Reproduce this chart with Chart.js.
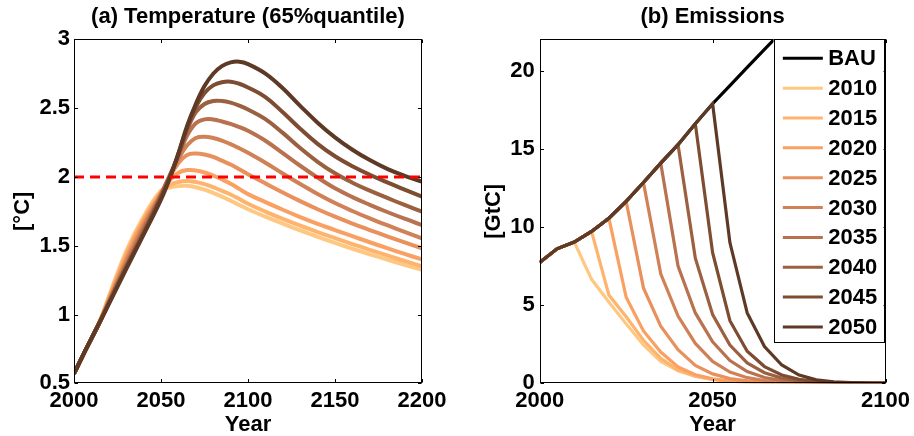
<!DOCTYPE html>
<html><head><meta charset="utf-8">
<script src="https://cdn.jsdelivr.net/npm/chart.js@4"></script>
<style>
html,body{margin:0;padding:0;background:#fff;}
#wrap{position:relative;width:914px;height:436px;background:#fff;}
canvas{position:absolute;top:0;}
#c1{left:0;} #c2{left:457px;}
</style></head><body>
<div id="wrap"><canvas id="c1" width="457" height="436"></canvas><canvas id="c2" width="457" height="436"></canvas></div>
<script>
// ---------- data ----------
const scenarioLabels = ['2010','2015','2020','2025','2030','2035','2040','2045','2050'];
const scenarioStart = [2010,2015,2020,2025,2030,2035,2040,2045,2050];
const scenarioColors = ['#FFC882','#FFB46E','#F9A062','#E8915C','#D08156','#B8724F','#9B603F','#7D4C31','#5E3A26'];

const tempYears = [2000,2005,2010,2015,2020,2030,2040,2050,2055,2060,2065,2070,2075,2080,2085,2090,2095,2100,2110,2120,2130,2140,2150,2160,2170,2180,2190,2200];
const temp2010 = [.57,.70,.825,.96,1.13,1.46,1.71,1.90,1.922,1.933,1.935,1.925,1.907,1.884,1.857,1.827,1.796,1.765,1.711,1.660,1.611,1.564,1.520,1.478,1.438,1.399,1.361,1.325];
const temp2015 = [.57,.70,.825,.955,1.12,1.44,1.69,1.89,1.94,1.963,1.97,1.963,1.947,1.925,1.899,1.872,1.839,1.805,1.748,1.695,1.646,1.599,1.555,1.512,1.470,1.429,1.389,1.35];
const temp2020 = [.57,.70,.825,.95,1.11,1.42,1.68,1.885,1.975,2.03,2.05,2.046,2.032,2.01,1.982,1.95,1.913,1.875,1.817,1.761,1.708,1.659,1.614,1.569,1.525,1.482,1.44,1.40];
const temp2025 = [.57,.70,.825,.95,1.10,1.40,1.66,1.88,2.00,2.10,2.16,2.17,2.163,2.145,2.118,2.09,2.056,2.02,1.953,1.887,1.824,1.765,1.711,1.661,1.614,1.568,1.524,1.481];
const temp2030 = [.57,.70,.825,.95,1.095,1.38,1.64,1.875,2.01,2.13,2.23,2.283,2.292,2.283,2.264,2.238,2.208,2.175,2.103,2.025,1.948,1.876,1.81,1.752,1.699,1.649,1.601,1.554];
const temp2035 = [.57,.70,.825,.95,1.09,1.36,1.62,1.87,2.01,2.15,2.30,2.39,2.418,2.417,2.403,2.385,2.362,2.335,2.263,2.173,2.081,1.995,1.917,1.853,1.797,1.745,1.696,1.65];
const temp2040 = [.57,.70,.825,.95,1.085,1.35,1.60,1.86,2.00,2.16,2.34,2.47,2.53,2.552,2.552,2.54,2.518,2.49,2.42,2.32,2.21,2.11,2.026,1.958,1.90,1.847,1.796,1.747];
const temp2045 = [.57,.70,.825,.95,1.08,1.34,1.59,1.85,1.995,2.17,2.36,2.51,2.61,2.665,2.688,2.692,2.677,2.65,2.58,2.47,2.35,2.24,2.15,2.078,2.016,1.96,1.907,1.856];
const temp2050 = [.57,.70,.825,.95,1.075,1.33,1.58,1.835,1.99,2.17,2.37,2.53,2.66,2.75,2.805,2.832,2.837,2.82,2.751,2.644,2.516,2.394,2.287,2.197,2.122,2.058,2.008,1.965];
const tempSeries = [temp2010,temp2015,temp2020,temp2025,temp2030,temp2035,temp2040,temp2045,temp2050];
const thresholdYears = [2000, 2200];
const thresholdValues = [2, 2];

const emisYears = [2000,2005,2010,2015,2020,2025,2030,2035,2040,2045,2050,2055,2060,2065,2070,2075,2080,2085,2090,2095,2100];
const emisBAU = [7.72,8.6,9.03,9.71,10.56,11.63,12.84,14.08,15.26,16.6,17.88,19.04,20.2,21.35,22.5,23.7,24.9,26.1,27.3,28.5,29.7];
const emis2010 = [9.03,6.65,5.2,3.8,2.45,1.4,0.8,0.45,0.25,0.13,0.07,0.04,0.02,0.01,0.01,0,0,0,0];
const emis2015 = [9.71,5.65,4.25,2.75,1.6,0.85,0.45,0.25,0.13,0.07,0.04,0.02,0.01,0.01,0,0,0,0];
const emis2020 = [10.56,5.5,3.35,2.0,1.05,0.55,0.28,0.14,0.07,0.04,0.02,0.01,0.01,0,0,0,0];
const emis2025 = [11.63,6.1,3.65,2.15,1.15,0.6,0.3,0.15,0.08,0.04,0.02,0.01,0.01,0,0,0];
const emis2030 = [12.84,7.0,4.3,2.55,1.4,0.72,0.36,0.18,0.09,0.05,0.02,0.01,0.01,0,0];
const emis2035 = [14.08,7.5,4.5,2.65,1.45,0.75,0.37,0.18,0.09,0.05,0.02,0.01,0,0];
const emis2040 = [15.26,8.0,4.4,2.45,1.3,0.68,0.33,0.16,0.08,0.04,0.02,0.01,0];
const emis2045 = [16.6,8.35,4.0,2.05,1.07,0.53,0.25,0.12,0.06,0.03,0.01,0];
const emis2050 = [17.88,9.0,4.5,2.35,1.17,0.53,0.22,0.1,0.05,0.02,0.01];
const emisSeries = [emis2010,emis2015,emis2020,emis2025,emis2030,emis2035,emis2040,emis2045,emis2050];

const tempXTicks = [2000,2050,2100,2150,2200];
const tempYTicks = [0.5,1,1.5,2,2.5,3];
const emisXTicks = [2000,2050,2100];
const emisYTicks = [0,5,10,15,20];

// ---------- helpers ----------
const FONT = "'Liberation Sans', Arial, Helvetica, sans-serif";
Chart.defaults.font.family = FONT;
Chart.defaults.font.size = 22;
Chart.defaults.font.weight = 'bold';
Chart.defaults.color = '#000';

const xy = (xs, ys) => ys.map((v, i) => ({x: xs[i], y: v}));

function framePlugin(tickLen) {
  return {
    id: 'frame',
    afterDraw(chart) {
      const {ctx, chartArea: a, scales} = chart;
      ctx.save();
      ctx.strokeStyle = '#000';
      ctx.lineWidth = 1;
      const L = Math.round(a.left) + 0.5, R = Math.round(a.right) - 0.5;
      const T = Math.round(a.top) + 0.5, B = Math.round(a.bottom) - 0.5;
      ctx.strokeRect(L, T, R - L, B - T);
      ctx.beginPath();
      scales.x.ticks.forEach(t => {
        const p = Math.round(scales.x.getPixelForValue(t.value)) + 0.5;
        ctx.moveTo(p, B); ctx.lineTo(p, B - tickLen);
        ctx.moveTo(p, T); ctx.lineTo(p, T + tickLen);
      });
      scales.y.ticks.forEach(t => {
        const p = Math.round(scales.y.getPixelForValue(t.value)) + 0.5;
        ctx.moveTo(L, p); ctx.lineTo(L + tickLen, p);
        ctx.moveTo(R, p); ctx.lineTo(R - tickLen, p);
      });
      ctx.stroke();
      ctx.restore();
    }
  };
}

function titlePlugin(text, baseline) {
  return {
    id: 'panelTitle',
    afterDraw(chart) {
      const {ctx, chartArea: a} = chart;
      ctx.save();
      ctx.font = 'bold 22px ' + FONT;
      ctx.fillStyle = '#000';
      ctx.textAlign = 'center';
      ctx.textBaseline = 'alphabetic';
      ctx.fillText(text, (a.left + a.right) / 2, baseline);
      ctx.restore();
    }
  };
}

function legendPlugin(labels, colors) {
  return {
    id: 'boxLegend',
    afterDraw(chart) {
      const {ctx, chartArea: a} = chart;
      const right = a.right - 2, left = right - 110, top = a.top, bottom = 342;
      ctx.save();
      ctx.fillStyle = '#fff';
      ctx.fillRect(left, top, right - left, bottom - top);
      ctx.strokeStyle = '#000';
      ctx.lineWidth = 1;
      ctx.strokeRect(Math.round(left) + 0.5, Math.round(top) + 0.5, Math.round(right - left), Math.round(bottom - top));
      ctx.font = 'bold 22px ' + FONT;
      ctx.textBaseline = 'middle';
      ctx.textAlign = 'left';
      labels.forEach((lab, i) => {
        const y = top + 19 + 29.85 * i;
        ctx.strokeStyle = colors[i];
        ctx.lineWidth = 3;
        ctx.beginPath();
        ctx.moveTo(left + 9.3, y); ctx.lineTo(left + 49.3, y);
        ctx.stroke();
        ctx.fillStyle = '#000';
        ctx.fillText(lab, left + 54.7, y + 1);
      });
      ctx.restore();
    }
  };
}

function axisX(min, max, ticks, afterH) {
  return {
    type: 'linear', min, max,
    afterBuildTicks: s => { s.ticks = ticks.map(v => ({value: v})); },
    afterFit: s => { s.height = afterH; },
    grid: {display: false, drawTicks: false},
    border: {display: false},
    ticks: {padding: 4, autoSkip: false, maxRotation: 0, callback: v => String(v)},
    title: {display: true, text: 'Year', font: {size: 22, weight: 'bold', lineHeight: 1}, padding: {top: 0, bottom: 0}}
  };
}
function axisY(min, max, ticks, width, title, pad, titlePad) {
  return {
    type: 'linear', min, max,
    afterBuildTicks: s => { s.ticks = ticks.map(v => ({value: v})); },
    afterFit: s => { s.width = width; },
    grid: {display: false, drawTicks: false},
    border: {display: false},
    ticks: {padding: pad, autoSkip: false, callback: v => String(v)},
    title: {display: true, text: title, font: {size: 22, weight: 'bold', lineHeight: 1}, padding: {top: titlePad, bottom: 0}}
  };
}

// ---------- left: temperature ----------
const tempDatasets = tempSeries.map((vals, i) => ({
  label: scenarioLabels[i],
  data: xy(tempYears, vals),
  borderColor: scenarioColors[i],
  borderWidth: 4,
  tension: 0.4,
  pointRadius: 0,
  fill: false,
  order: 20 - i
}));
tempDatasets.push({
  label: '2°C',
  data: xy(thresholdYears, thresholdValues),
  borderColor: '#FF0000',
  borderWidth: 3,
  borderDash: [10, 6],
  pointRadius: 0,
  fill: false,
  order: 0
});

new Chart(document.getElementById('c1'), {
  type: 'line',
  data: {datasets: tempDatasets},
  options: {
    responsive: false, animation: false, devicePixelRatio: 1,
    layout: {padding: {top: 39.3, right: 35, left: 0, bottom: 0}},
    plugins: {legend: {display: false}, tooltip: {enabled: false}, title: {display: false}},
    scales: {
      x: axisX(2000, 2200, tempXTicks, 52.7),
      y: axisY(0.5, 3, tempYTicks, 74, '[°C]', 4, 12)
    }
  },
  plugins: [framePlugin(3.5), titlePlugin('(a) Temperature (65%quantile)', 22.7)]
});

// ---------- right: emissions ----------
const emisDatasets = [{
  label: 'BAU',
  data: xy(emisYears, emisBAU),
  borderColor: '#000',
  borderWidth: 3.2,
  pointRadius: 0,
  fill: false,
  order: 30
}];
emisSeries.forEach((vals, i) => {
  const start = scenarioStart[i];
  const pre = emisYears.filter(y => y < start).map(y => ({x: y, y: emisBAU[emisYears.indexOf(y)]}));
  const post = vals.map((v, k) => ({x: start + 5 * k, y: v}));
  emisDatasets.push({
    label: scenarioLabels[i],
    data: pre.concat(post),
    borderColor: scenarioColors[i],
    borderWidth: 3.2,
    pointRadius: 0,
    fill: false,
    order: 20 - i
  });
});

new Chart(document.getElementById('c2'), {
  type: 'line',
  data: {datasets: emisDatasets},
  options: {
    responsive: false, animation: false, devicePixelRatio: 1,
    layout: {padding: {top: 39.3, right: 27, left: 0, bottom: 0}},
    plugins: {legend: {display: false}, tooltip: {enabled: false}, title: {display: false}},
    scales: {
      x: axisX(2000, 2100, emisXTicks, 52.7),
      y: axisY(0, 22, emisYTicks, 82.7, '[GtC]', 5, 25.7)
    }
  },
  plugins: [framePlugin(3.5), titlePlugin('(b) Emissions', 22.7), legendPlugin(['BAU'].concat(scenarioLabels), ['#000'].concat(scenarioColors))]
});
</script>
</body></html>
